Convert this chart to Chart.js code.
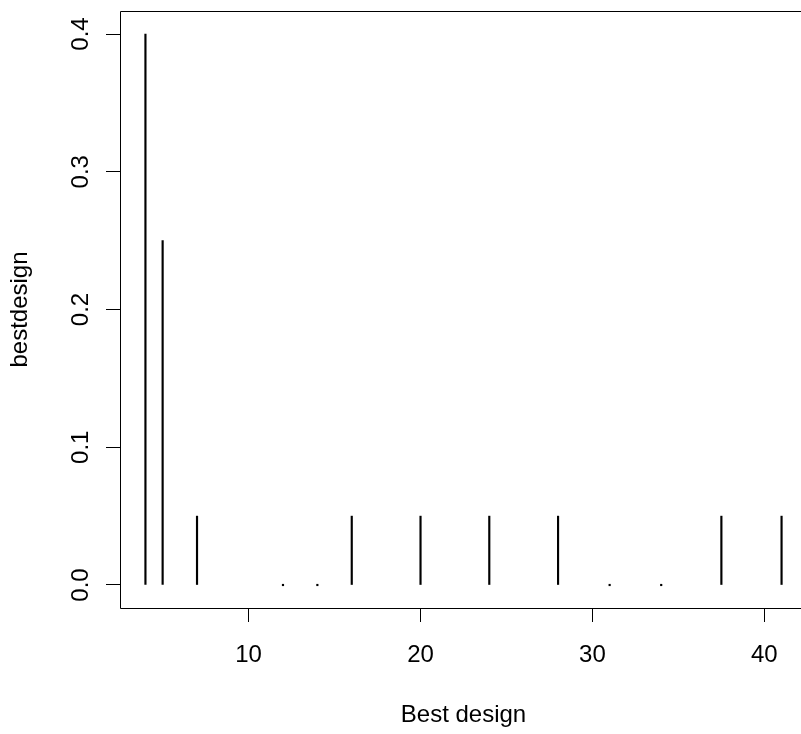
<!DOCTYPE html>
<html>
<head>
<meta charset="utf-8">
<script src="https://cdn.jsdelivr.net/npm/chart.js@4/dist/chart.umd.min.js"></script>
<style>
  html, body { margin: 0; padding: 0; background: #fff; overflow: hidden; width: 801px; height: 734px; }
  #c { display: block; }
</style>
</head>
<body>
<canvas id="c" width="860" height="734"></canvas>
<script>
// ---- data ----
const designs = [4, 5, 7, 12, 14, 16, 20, 24, 28, 31, 34, 37.5, 41];
const proportions = [0.40, 0.25, 0.05, 0, 0, 0.05, 0.05, 0.05, 0.05, 0, 0, 0.05, 0.05];
const xTickValues = [10, 20, 30, 40];
const yTickValues = [0.0, 0.1, 0.2, 0.3, 0.4];
const yTickLabels = ['0.0', '0.1', '0.2', '0.3', '0.4'];
const xTitle = 'Best design';
const yTitle = 'bestdesign';

const FONT = '"Liberation Sans", Arial, sans-serif';
const FS = 24;

const points = designs.map((d, i) => ({ x: d, y: proportions[i] }));

const boxPlugin = {
  id: 'rbox',
  afterDraw(chart) {
    const { ctx, chartArea: a } = chart;
    const L = Math.round(a.left) + 0.5, T = Math.round(a.top) + 0.5;
    const R = Math.round(a.right) + 0.5, B = Math.round(a.bottom) + 0.5;
    ctx.save();
    ctx.strokeStyle = '#000';
    ctx.lineWidth = 1;
    ctx.beginPath();
    ctx.moveTo(R, T); ctx.lineTo(L, T); ctx.lineTo(L, B); ctx.lineTo(R, B);
    ctx.stroke();
    // rotated y tick labels (R style)
    const ys = chart.scales.y;
    ctx.fillStyle = '#000';
    ctx.font = FS + 'px ' + FONT;
    ctx.textAlign = 'center';
    ctx.textBaseline = 'alphabetic';
    yTickValues.forEach((v, i) => {
      const py = ys.getPixelForValue(v);
      ctx.save();
      ctx.translate(88, py);
      ctx.rotate(-Math.PI / 2);
      ctx.fillText(yTickLabels[i], 0, 0);
      ctx.restore();
    });
    ctx.restore();
  }
};

new Chart(document.getElementById('c'), {
  type: 'bar',
  data: {
    datasets: [{
      data: points,
      backgroundColor: '#000',
      borderWidth: 0,
      barThickness: 1.5,
      minBarLength: 1.5,
      grouped: false
    }]
  },
  options: {
    responsive: false,
    animation: false,
    devicePixelRatio: 1,
    layout: { padding: { top: 11, right: 53, left: 0, bottom: 0 } },
    plugins: { legend: { display: false }, tooltip: { enabled: false } },
    scales: {
      x: {
        type: 'linear',
        min: 2.52,
        max: 42.48,
        offset: false,
        afterBuildTicks: (s) => { s.ticks = xTickValues.map(v => ({ value: v })); },
        afterFit: (s) => { s.height = 126; },
        grid: { display: true, offset: false, drawOnChartArea: false, drawTicks: true, tickLength: 14, color: '#000', lineWidth: 1 },
        border: { display: false },
        ticks: { color: '#000', padding: 19, maxRotation: 0, minRotation: 0, font: { family: FONT, size: FS } },
        title: { display: true, text: xTitle, color: '#000', font: { family: FONT, size: FS }, padding: { top: 0, bottom: 4 } }
      },
      y: {
        type: 'linear',
        min: -0.0167,
        max: 0.4167,
        afterBuildTicks: (s) => { s.ticks = yTickValues.map(v => ({ value: v })); },
        afterFit: (s) => { s.width = 120; },
        grid: { display: true, drawOnChartArea: false, drawTicks: true, tickLength: 14, color: '#000', lineWidth: 1 },
        border: { display: false },
        ticks: { display: false },
        title: { display: true, text: yTitle, color: '#000', font: { family: FONT, size: FS }, padding: { top: 6, bottom: 0 } }
      }
    }
  },
  plugins: [boxPlugin]
});
</script>
</body>
</html>
